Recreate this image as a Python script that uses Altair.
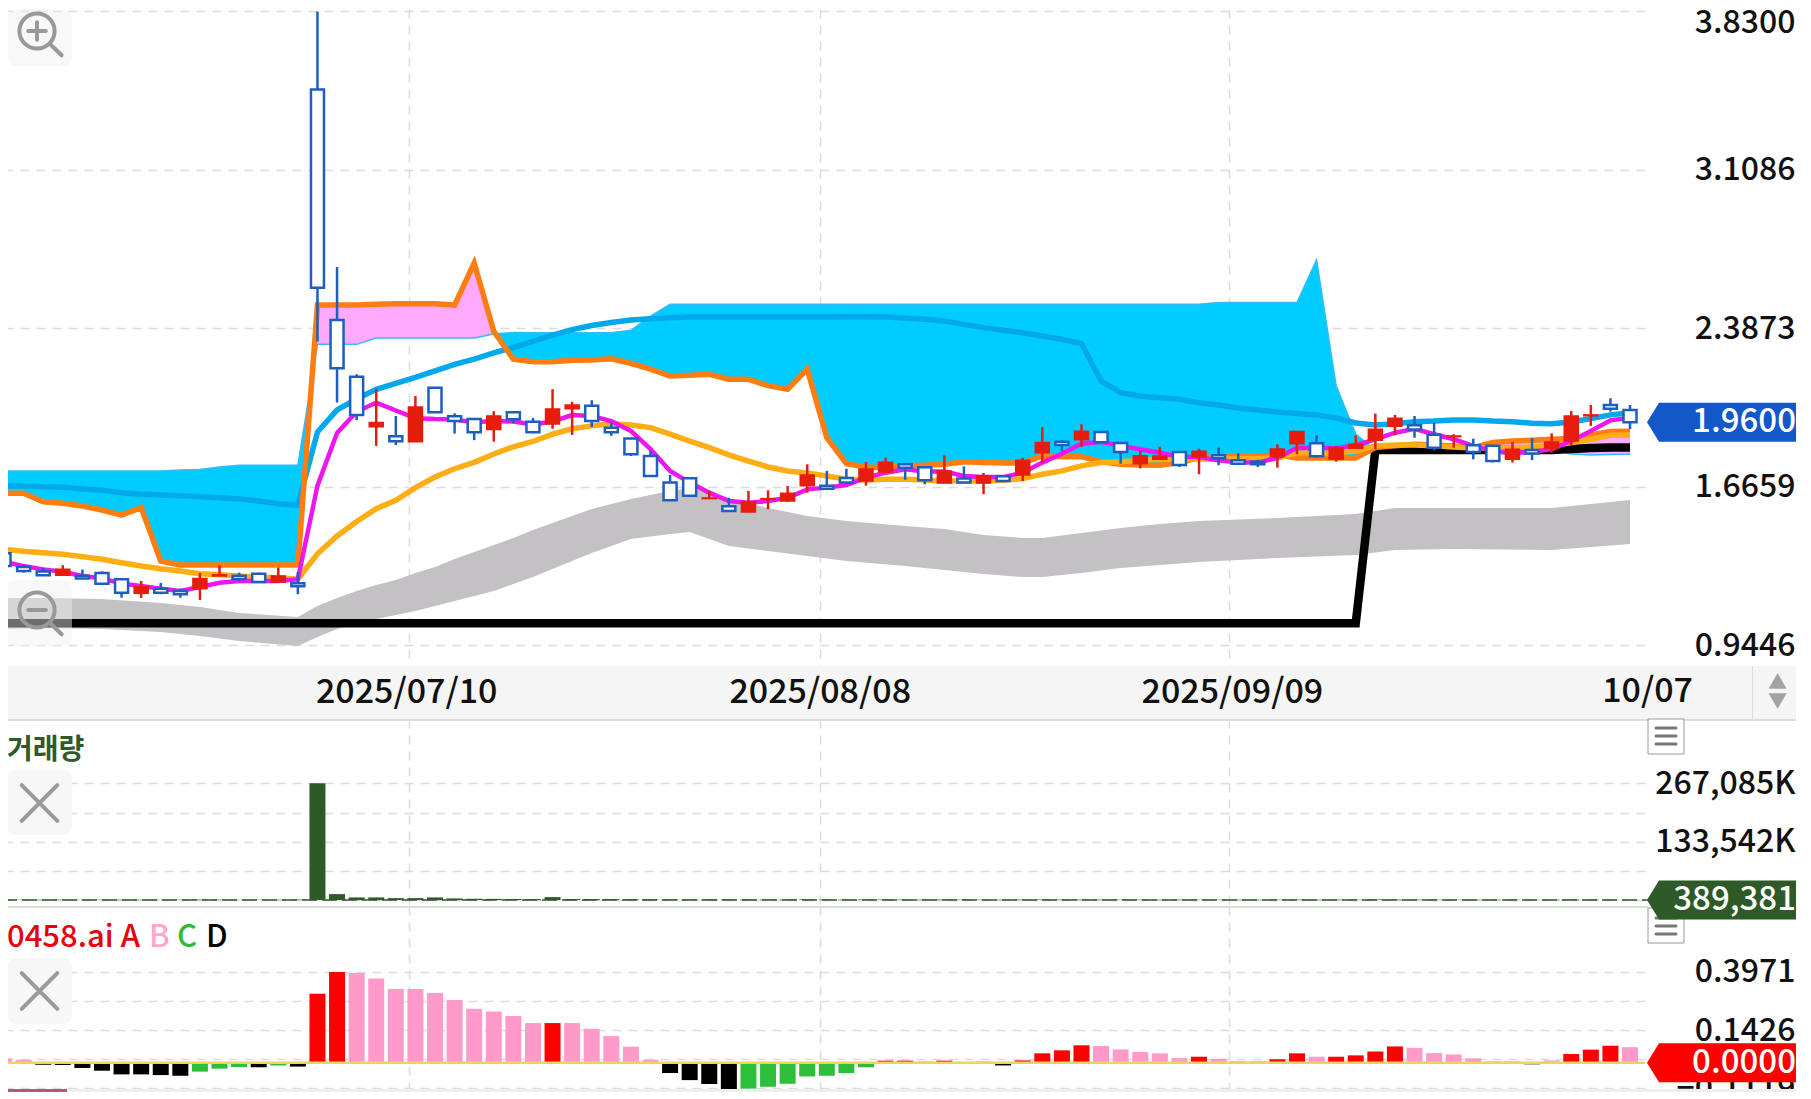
import altair as alt
import pandas as pd

FONT = "Noto Sans CJK KR"
N = 84

# ---- candles ----
directions = "BBBRBBBRBBRRBBRBBBBRBRBBBRBBRRBBBBBBRBRRRRBBRRBBRBRBRRBRBBRRBRBBBRRBRRRRBBRBBRBRRRBB"
highs = [1.364,1.311,1.299,1.310,1.290,1.282,1.249,1.238,1.229,1.203,
         1.275,1.310,1.276,1.276,1.299,1.279,3.830,2.667,2.179,2.111,
         1.989,2.080,2.117,2.001,1.975,2.011,2.006,1.980,2.111,2.054,
         2.061,1.960,1.890,1.830,1.721,1.706,1.648,1.617,1.648,1.651,
         1.670,1.769,1.739,1.749,1.780,1.799,1.769,1.756,1.810,1.760,
         1.730,1.715,1.799,1.939,1.879,1.951,1.916,1.866,1.830,1.849,
         1.825,1.840,1.845,1.819,1.790,1.860,1.918,1.901,1.853,1.901,
         2.000,1.994,1.989,1.959,1.906,1.886,1.854,1.871,1.888,1.910,
         2.012,2.039,2.070,2.039]
body_tops = [1.364,1.302,1.281,1.291,1.262,1.275,1.246,1.212,1.203,1.193,
             1.250,1.266,1.262,1.271,1.261,1.228,3.475,2.426,2.167,1.959,
             1.897,2.030,2.117,1.988,1.975,1.989,2.006,1.963,2.021,2.039,
             2.036,1.936,1.886,1.807,1.686,1.706,1.616,1.578,1.598,1.613,
             1.637,1.721,1.672,1.707,1.748,1.778,1.769,1.756,1.739,1.704,
             1.717,1.715,1.788,1.868,1.872,1.919,1.916,1.866,1.808,1.807,
             1.825,1.828,1.810,1.788,1.781,1.839,1.918,1.865,1.845,1.860,
             1.929,1.979,1.947,1.904,1.898,1.856,1.854,1.838,1.834,1.871,
             1.989,1.994,2.039,2.016]
body_bottoms = [1.306,1.284,1.264,1.264,1.249,1.226,1.185,1.182,1.185,1.178,
                1.203,1.261,1.247,1.234,1.234,1.214,2.573,2.206,1.994,1.940,
                1.874,1.872,2.006,1.966,1.915,1.927,1.974,1.915,1.953,2.022,
                1.966,1.915,1.815,1.716,1.605,1.626,1.613,1.557,1.552,1.610,
                1.602,1.672,1.658,1.686,1.693,1.734,1.754,1.696,1.684,1.686,
                1.684,1.693,1.721,1.822,1.857,1.881,1.869,1.825,1.772,1.792,
                1.766,1.803,1.797,1.772,1.769,1.803,1.863,1.806,1.792,1.842,
                1.879,1.942,1.927,1.845,1.895,1.825,1.784,1.792,1.818,1.842,
                1.875,1.990,2.022,1.960]
lows = [1.293,1.276,1.261,1.264,1.246,1.220,1.162,1.161,1.178,1.162,
        1.152,1.261,1.238,1.229,1.234,1.178,2.328,2.050,1.970,1.853,
        1.857,1.872,2.006,1.909,1.879,1.872,1.956,1.915,1.931,1.903,
        1.939,1.899,1.807,1.716,1.605,1.626,1.613,1.557,1.552,1.565,
        1.598,1.640,1.658,1.686,1.672,1.734,1.699,1.678,1.684,1.686,
        1.633,1.693,1.693,1.777,1.830,1.849,1.869,1.772,1.751,1.792,
        1.757,1.724,1.765,1.769,1.757,1.754,1.815,1.799,1.781,1.842,
        1.838,1.901,1.890,1.833,1.845,1.792,1.778,1.777,1.788,1.822,
        1.853,1.944,2.009,1.929]

# ---- overlay lines ----
magenta_line = [1.326,1.306,1.291,1.280,1.261,1.250,1.226,1.215,1.203,1.193,
                1.211,1.230,1.238,1.238,1.238,1.246,1.672,1.912,2.008,2.050,
                2.014,1.979,1.975,1.973,1.960,1.966,1.964,1.950,1.964,1.993,
                1.989,1.966,1.921,1.838,1.739,1.686,1.640,1.602,1.594,1.602,
                1.617,1.655,1.663,1.675,1.708,1.731,1.746,1.736,1.736,1.716,
                1.711,1.711,1.731,1.777,1.817,1.863,1.871,1.853,1.838,1.822,
                1.804,1.802,1.787,1.777,1.777,1.799,1.843,1.845,1.842,1.856,
                1.883,1.913,1.931,1.906,1.883,1.853,1.830,1.822,1.825,1.838,
                1.875,1.921,1.969,1.981]
yellow_line = [1.382,1.373,1.367,1.360,1.349,1.337,1.321,1.306,1.294,1.284,
               1.271,1.266,1.261,1.256,1.253,1.246,1.362,1.443,1.509,1.567,
               1.605,1.663,1.711,1.749,1.778,1.816,1.849,1.873,1.906,1.931,
               1.944,1.954,1.948,1.936,1.906,1.875,1.845,1.812,1.784,1.757,
               1.739,1.730,1.716,1.701,1.698,1.701,1.701,1.698,1.693,1.693,
               1.693,1.696,1.704,1.724,1.739,1.762,1.777,1.781,1.787,1.792,
               1.792,1.793,1.793,1.793,1.796,1.798,1.821,1.821,1.821,1.830,
               1.853,1.857,1.857,1.853,1.848,1.843,1.843,1.845,1.848,1.853,
               1.868,1.883,1.901,1.903]
blue_line = [1.670,1.670,1.667,1.665,1.658,1.651,1.640,1.633,1.630,1.626,
             1.622,1.617,1.611,1.602,1.590,1.584,1.916,2.017,2.066,2.110,
             2.137,2.165,2.194,2.224,2.248,2.276,2.301,2.328,2.357,2.382,
             2.401,2.414,2.426,2.432,2.436,2.440,2.440,2.440,2.440,2.440,
             2.440,2.440,2.440,2.441,2.441,2.440,2.434,2.429,2.421,2.406,
             2.391,2.379,2.368,2.353,2.338,2.318,2.148,2.095,2.080,2.072,
             2.065,2.049,2.039,2.025,2.016,2.007,2.000,1.994,1.980,1.957,
             1.948,1.954,1.963,1.966,1.971,1.971,1.966,1.963,1.956,1.954,
             1.962,1.977,1.994,2.004]
orange_line = [1.637,1.637,1.599,1.592,1.579,1.561,1.538,1.572,1.329,1.311,
               1.311,1.311,1.311,1.311,1.311,1.311,2.494,2.494,2.494,2.497,
               2.500,2.500,2.500,2.494,2.685,2.374,2.247,2.236,2.236,2.243,
               2.244,2.249,2.229,2.202,2.171,2.174,2.179,2.156,2.156,2.127,
               2.111,2.202,1.890,1.772,1.757,1.754,1.762,1.765,1.769,1.781,
               1.777,1.775,1.775,1.807,1.804,1.804,1.781,1.769,1.766,1.765,
               1.777,1.799,1.803,1.807,1.807,1.812,1.798,1.798,1.798,1.798,
               1.845,1.853,1.860,1.857,1.853,1.845,1.868,1.875,1.879,1.883,
               1.886,1.903,1.918,1.919]
cloud_line = [1.739,1.739,1.739,1.739,1.739,1.739,1.739,1.739,1.739,1.743,
              1.746,1.757,1.765,1.765,1.765,1.765,2.315,2.315,2.315,2.344,
              2.344,2.344,2.344,2.344,2.344,2.362,2.369,2.368,2.368,2.368,
              2.368,2.368,2.379,2.443,2.497,2.497,2.497,2.497,2.497,2.497,
              2.497,2.497,2.497,2.497,2.497,2.497,2.497,2.497,2.497,2.497,
              2.497,2.497,2.497,2.497,2.497,2.497,2.497,2.497,2.497,2.497,
              2.497,2.497,2.505,2.505,2.505,2.505,2.505,2.700,2.126,1.907,
              1.834,1.843,1.848,1.843,1.843,1.843,1.843,1.843,1.843,1.839,
              1.816,1.812,1.814,1.815]
black_idx = [0, 69, 70, 79, 80, 81, 82, 83]
black_line = [1.046, 1.046, 1.834, 1.834, 1.839, 1.843, 1.846, 1.846]

band_idx = [0,2,5,8,10,12,15,16,17,18,19,20,21,22,23,24,25,26,27,28,29,30,32,34,35,36,37,39,41,43,46,48,50,52,53,55,57,59,61,65,69,71,74,79,83]
band_upper = [1.161,1.161,1.156,1.138,1.120,1.093,1.074,1.124,1.161,1.193,1.220,1.243,1.275,1.302,1.338,1.370,1.402,1.434,1.470,1.502,1.534,1.566,1.611,1.648,1.661,1.643,1.616,1.570,1.534,1.511,1.488,1.475,1.447,1.434,1.434,1.457,1.479,1.498,1.511,1.525,1.543,1.570,1.570,1.570,1.607]
band_lower = [1.020,1.024,1.020,1.006,0.988,0.965,0.942,0.983,1.020,1.047,1.065,1.083,1.102,1.124,1.147,1.170,1.193,1.224,1.256,1.293,1.329,1.366,1.429,1.452,1.461,1.429,1.397,1.375,1.352,1.329,1.306,1.288,1.270,1.256,1.256,1.275,1.297,1.311,1.325,1.343,1.356,1.379,1.384,1.379,1.407]

# ---- volume (thousands) ----
volume_k = [900,800,700,900,700,800,900,800,700,800,
            1100,900,700,800,700,1200,267085,13700,6100,6100,
            4500,4500,6100,3800,3000,2800,2500,2300,6800,2500,
            2400,2000,1800,1500,1400,1300,1500,1300,1400,1200,
            1300,1500,1200,1100,1300,1200,1100,1000,1200,1000,
            900,800,1100,1300,1200,1100,1000,900,1000,900,
            1000,900,800,800,800,1000,1200,900,1000,900,
            1400,1200,900,900,800,900,800,900,700,800,
            1300,1100,800,389]
last_volume_k = 389.381

# ---- oscillator ----
osc_values = [.019,.013,-.009,-.010,-.023,-.035,-.051,-.051,-.054,-.057,
              -.039,-.026,-.019,-.020,-.012,-.017,.301,.396,.391,.368,
              .322,.322,.304,.274,.236,.224,.204,.173,.173,.173,
              .148,.116,.070,.013,-.045,-.076,-.093,-.115,-.113,-.105,
              -.092,-.060,-.057,-.045,-.020,.009,.009,.004,.009,-.004,
              .004,-.012,.010,.041,.054,.076,.073,.058,.047,.041,
              .020,.026,.017,.007,.007,.015,.041,.026,.026,.032,
              .049,.071,.065,.042,.036,.019,.004,.004,-.007,.010,
              .038,.057,.074,.068]
osc_classes = "BBDDDDDDDDCCCDCDAABBBBBBBBBBABBBBBDDDDCCCCCCCAAAADADAAAABBBBBABBBAABAAAABBBBAADBAAAB"

# ---- axes ----
price_ticks = [3.83, 3.1086, 2.3873, 1.6659, 0.9446]
vol_ticks = [0, 66771, 133542, 200314, 267085]
vol_labelled = [133542, 267085]
osc_ticks = [0.3971, 0.2699, 0.1426, 0.0154, -0.1119]
osc_labelled = [0.3971, 0.1426, -0.1119]
date_ticks = [20.66, 41.64, 62.55]
date_labels = ["2025/07/10", "2025/08/08", "2025/09/09"]
last_date_label = "10/07"
last_price = 1.96

WIDTH = 1643
TOTAL = 1803
idx = list(range(N))
xs = alt.Scale(domain=[0.152, 83.51], nice=False, zero=False)
ys_price = alt.Scale(domain=[0.8513, 3.841], nice=False, zero=False)
ys_vol = alt.Scale(domain=[-13500, 414200], nice=False, zero=False)
ys_osc = alt.Scale(domain=[-0.1279, 0.684], nice=False, zero=False)

GRID = dict(grid=True, gridColor="#dcdcdc", gridDash=[9, 7], gridWidth=1.5)
x_grid_axis = alt.Axis(values=date_ticks, labels=False, ticks=False, domain=False, title=None, **GRID)
AXIS_SIZE = 32
FLAG_SIZE = 33
DATE_SIZE = 34


def y_axis(values, pad, **kw):
    return alt.Axis(values=values, orient="right", title=None, ticks=False, tickSize=0, domain=False,
                    labelPadding=pad, labelAlign="right", labelFont=FONT, labelFontSize=AXIS_SIZE,
                    labelFontWeight=500, labelColor="#111111", labelOverlap=False, labelLimit=400, **GRID, **kw)


one = pd.DataFrame({"k": [0]})


def box(x0, x1, y0, y1, fill, **kw):
    return alt.Chart(one).mark_rect(fill=fill, **kw).encode(
        x=alt.value(x0), x2=alt.value(x1), y=alt.value(y0), y2=alt.value(y1))


def glyph(x, y, path, size, color, width=4):
    return alt.Chart(one).mark_point(shape=path, size=size, filled=False, stroke=color, strokeWidth=width,
                                     strokeCap="round", opacity=1).encode(x=alt.value(x), y=alt.value(y))


def label(x, y, text, color, size=DATE_SIZE, align="left", weight=500):
    return alt.Chart(one).mark_text(text=text, color=color, font=FONT, fontSize=size, align=align,
                                    baseline="middle", fontWeight=weight).encode(x=alt.value(x), y=alt.value(y))


FLAG = "M-1,0 L-0.848,-0.247 L1,-0.247 L1,0.247 L-0.848,0.247 Z"
CIRCLE = "M-1,0 A1,1 0 1,1 1,0 A1,1 0 1,1 -1,0 Z M0.75,0.75 L1.4,1.38 "
PLUS = CIRCLE + "M-0.5,0 L0.5,0 M0,-0.5 L0,0.5"
MINUS = CIRCLE + "M-0.5,0 L0.5,0"
CROSS = "M-1,-1 L1,1 M-1,1 L1,-1"
MENU = "M-1,-0.8 L1,-0.8 M-1,0 L1,0 M-1,0.8 L1,0.8"


def flag(value, scale, color, text):
    d = pd.DataFrame({"v": [value], "t": [text]})
    y = alt.Y("v:Q", scale=scale, title=None)
    return (alt.Chart(d).mark_point(shape=FLAG, size=24964, filled=True, fill=color, opacity=1, strokeWidth=0)
            .encode(x=alt.value(1724), y=y)
            + alt.Chart(d).mark_text(color="white", font=FONT, fontSize=FLAG_SIZE, fontWeight=500, align="right", baseline="middle")
            .encode(x=alt.value(1794), y=y, text="t:N"))


# ---- main panel ----
main = pd.DataFrame({"i": idx, "high": highs, "low": lows, "top": body_tops, "bottom": body_bottoms,
                     "dir": list(directions), "magenta": magenta_line, "yellow": yellow_line,
                     "blue": blue_line, "orange": orange_line, "cloud": cloud_line})
x0 = alt.X("i:Q", scale=xs, title=None)
yp = lambda f: alt.Y(f, scale=ys_price, title=None)
top_label_offset = {"condition": {"test": "datum.value === 3.83", "value": 11}, "value": 0}


def area(df, color, first=False):
    x = alt.X("i:Q", scale=xs, axis=x_grid_axis) if first else x0
    y = alt.Y("orange:Q", scale=ys_price, axis=y_axis(price_ticks, 150, format=".4f", labelOffset=top_label_offset)) if first else yp("orange:Q")
    return alt.Chart(df).mark_area(color=color, clip=True, opacity=1).encode(x=x, y=y, y2=alt.Y2("cloud:Q"))


def line(df, field, color, width):
    return alt.Chart(df).mark_line(color=color, strokeWidth=width, clip=True, strokeJoin="miter").encode(x=x0, y=yp(f"{field}:Q"))


CYAN = "#00ccff"
PINK = "#ffaaff"
layers = [
    area(main[main.i <= 16], CYAN, first=True),
    area(main[(main.i >= 25) & (main.i <= 70)], CYAN),
    area(main[(main.i >= 16) & (main.i <= 25)], PINK),
    area(main[main.i >= 70], PINK),
    line(main, "cloud", "#33bbff", 1.5),
    alt.Chart(pd.DataFrame({"i": band_idx, "u": band_upper, "l": band_lower})).mark_area(color="#c3c1c4", clip=True, opacity=1)
    .encode(x=x0, y=yp("u:Q"), y2=alt.Y2("l:Q")),
    alt.Chart(pd.DataFrame({"i": black_idx, "v": black_line})).mark_line(color="black", strokeWidth=8.5, clip=True, strokeJoin="miter")
    .encode(x=x0, y=yp("v:Q")),
    line(main, "blue", "#00a8ec", 5.5),
    line(main, "orange", "#ff7d10", 5.5),
    line(main, "yellow", "#ffad14", 5.5),
    line(main, "magenta", "#ee16ee", 4.5),
]
for d, color, fill, size, sw in [("R", "#e61c0c", "#e61c0c", 14, 1.5), ("B", "#1e5ebf", "white", 13, 2.5)]:
    sub = main[main.dir == d]
    layers.append(alt.Chart(sub).mark_rule(color=color, strokeWidth=2.5, clip=True).encode(x=x0, y=yp("low:Q"), y2=alt.Y2("high:Q")))
    layers.append(alt.Chart(sub).mark_bar(orient="vertical", size=size, fill=fill, stroke=color, strokeWidth=sw, clip=True, opacity=1)
                  .encode(x=x0, y=yp("bottom:Q"), y2=alt.Y2("top:Q")))
layers += [
    box(5, 70, 0, 57, "#f0f0f0", opacity=0.45, cornerRadius=9),
    glyph(35, 22, PLUS, 1239, "#999999"),
    box(5, 70, 571, 637, "#f0f0f0", opacity=0.45, cornerRadius=9),
    glyph(35, 601, MINUS, 1239, "#999999"),
    flag(last_price, ys_price, "#1358c8", f"{last_price:.4f}"),
]
main_chart = alt.layer(*layers).properties(width=WIDTH, height=657)

# ---- date strip ----
strip_axis = alt.Axis(values=date_ticks, grid=False, ticks=False, domain=False, title=None, orient="bottom",
                      labelPadding=-27, labelBaseline="middle", labelFont=FONT, labelFontSize=DATE_SIZE,
                      labelFontWeight=500, labelColor="#111111", labelLimit=400,
                      labelOverlap=False, zindex=1, labelAlign="center",
                      labelExpr=f"{date_labels}[indexof({date_ticks}, datum.value)]")
strip = alt.layer(
    box(0, TOTAL, 0, 53, "#f5f5f5"),
    alt.Chart(pd.DataFrame({"i": [40]})).mark_point(opacity=0).encode(x=alt.X("i:Q", scale=xs, axis=strip_axis), y=alt.value(26)),
    label(1645.6, 26, last_date_label, "#111111", align="center"),
    box(1750, 1751, 0, 53, "#dddddd"),
    alt.Chart(one).mark_point(shape="triangle-up", size=330, filled=True, fill="#a3a3a3", opacity=1).encode(x=alt.value(1775.6), y=alt.value(15)),
    alt.Chart(one).mark_point(shape="triangle-down", size=330, filled=True, fill="#a3a3a3", opacity=1).encode(x=alt.value(1775.6), y=alt.value(35)),
).properties(width=WIDTH, height=53)

# ---- volume panel ----
vol = pd.DataFrame({"i": idx, "v": volume_k, "z": [0] * N})
GREEN = "#2d5a27"
vol_axis = y_axis(vol_ticks, 150, labelExpr=f"datum.value === 0 ? '0' : (indexof({vol_labelled}, datum.value) >= 0 ? format(datum.value, ',') + 'K' : '')")
vol_chart = alt.layer(
    alt.Chart(vol).mark_bar(orient="vertical", size=16, color=GREEN, clip=True)
    .encode(x=alt.X("i:Q", scale=xs, axis=x_grid_axis), y=alt.Y("v:Q", scale=ys_vol, axis=vol_axis), y2=alt.Y2("z:Q")),
    alt.Chart(pd.DataFrame({"v": [last_volume_k]})).mark_rule(stroke=GREEN, strokeDash=[15, 5], strokeWidth=2, opacity=0.75)
    .encode(x=alt.value(0), x2=alt.value(1647), y=alt.Y("v:Q", scale=ys_vol, title=None)),
    box(0, TOTAL, 0, 2, "#dddddd"),
    label(5, 32, "거래량", GREEN, size=28, weight=700),
    box(5, 70, 51, 116, "#f7f7f7", cornerRadius=9),
    glyph(37.5, 84, CROSS, 1267, "#9a9a9a"),
    box(1646, 1682, 0, 35, "white", stroke="#999999", strokeWidth=1),
    glyph(1664, 17, MENU, 400, "#777777", 3),
    box(1646, 1682, 189, 224, "white", stroke="#999999", strokeWidth=1),
    glyph(1664, 207, MENU, 400, "#777777", 3),
    flag(last_volume_k, ys_vol, GREEN, "389,381"),
).properties(width=WIDTH, height=187)

# ---- oscillator panel ----
osc = pd.DataFrame({"i": idx, "v": osc_values, "z": [0.0] * N, "c": list(osc_classes)})
osc_axis = y_axis(osc_ticks, 150, labelExpr=f"indexof({osc_labelled}, datum.value) >= 0 ? format(datum.value, '.4f') : ''")
osc_legend = [("0458.ai A", "#e8000c", 5), ("B", "#ffa6d0", 147), ("C", "#2dbb3a", 175), ("D", "#000000", 204)]
osc_chart = alt.layer(
    alt.Chart(osc).mark_bar(orient="vertical", size=16, clip=True, opacity=1)
    .encode(x=alt.X("i:Q", scale=xs, axis=x_grid_axis), y=alt.Y("v:Q", scale=ys_osc, axis=osc_axis), y2=alt.Y2("z:Q"),
            color=alt.Color("c:N", legend=None, scale=alt.Scale(domain=["A", "B", "C", "D"], range=["#ff0000", "#ff9acb", "#2dbf3a", "#000000"]))),
    alt.Chart(pd.DataFrame({"v": [0.0]})).mark_rule(stroke="#f0d264", strokeWidth=2.5)
    .encode(x=alt.value(0), x2=alt.value(WIDTH), y=alt.Y("v:Q", scale=ys_osc, title=None)),
    box(0, 1646, 0, 2, "#dddddd"),
    *[label(x, 32, t, c, size=31) for t, c, x in osc_legend],
    box(5, 70, 52, 118, "#f7f7f7", cornerRadius=9),
    glyph(37.5, 85, CROSS, 1267, "#9a9a9a"),
    box(0, TOTAL, 183, 186, "#eeeeee"),
    box(0, 65, 183, 186, "#c0527f"),
    flag(0.0, ys_osc, "#ff0000", "0.0000"),
).properties(width=WIDTH, height=186)

chart = (alt.vconcat(main_chart, strip, vol_chart, osc_chart, spacing=0, bounds="flush")
         .properties(padding={"left": -8, "top": -3, "right": -9, "bottom": -13})
         .configure_view(stroke=None))
chart.save("out.html", embed_options={"renderer": "svg", "actions": False})
